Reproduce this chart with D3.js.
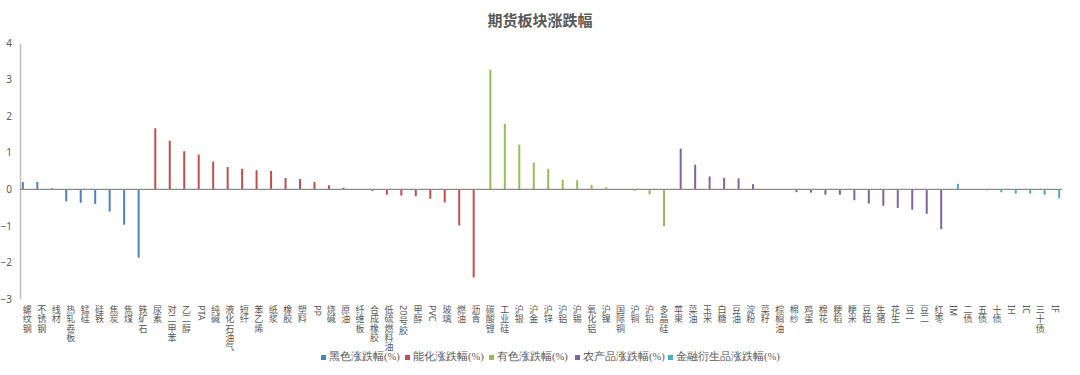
<!DOCTYPE html>
<html>
<head>
<meta charset="utf-8">
<script src="https://cdn.jsdelivr.net/npm/d3@7"></script>
<style>
  body { margin: 0; background: #fff; }
  svg { display: block; font-family: "Noto Sans CJK SC", "Noto Sans", sans-serif; }
</style>
</head>
<body>
<svg id="chart"></svg>
<script>
// sectors, in drawing order
const seriesNames = ['黑色涨跌幅(%)', '能化涨跌幅(%)', '有色涨跌幅(%)', '农产品涨跌幅(%)', '金融衍生品涨跌幅(%)'];
const seriesColors = ['#4F81BD', '#C0504D', '#9BBB59', '#8064A2', '#4BACC6'];

const blackCats = ['螺纹钢', '不锈钢', '线材', '热轧卷板', '锰硅', '硅铁', '焦炭', '焦煤', '铁矿石'];
const blackVals = [0.20, 0.20, 0.03, -0.33, -0.37, -0.40, -0.61, -0.97, -1.87];

const chemCats = ['尿素', '对二甲苯', '乙二醇', 'PTA', '纯碱', '液化石油气', '短纤', '苯乙烯', '纸浆', '橡胶', '塑料', 'PP', '烧碱', '原油', '纤维板', '合成橡胶', '低硫燃料油', '20号胶', '甲醇', 'PVC', '玻璃', '燃油', '沥青'];
const chemVals = [1.67, 1.33, 1.04, 0.95, 0.76, 0.61, 0.56, 0.52, 0.50, 0.31, 0.28, 0.20, 0.11, 0.04, 0, -0.05, -0.15, -0.17, -0.19, -0.26, -0.36, -0.99, -2.41];

const metalCats = ['碳酸锂', '工业硅', '沪银', '沪金', '沪锌', '沪铝', '沪锡', '氧化铝', '沪镍', '国际铜', '沪铜', '沪铅', '多晶硅'];
const metalVals = [3.27, 1.79, 1.22, 0.73, 0.56, 0.26, 0.25, 0.12, 0.05, 0.01, -0.04, -0.14, -1.01];

const agriCats = ['苹果', '菜油', '玉米', '白糖', '豆油', '淀粉', '菜籽', '棕榈油', '棉纱', '鸡蛋', '棉花', '粳稻', '粳米', '豆粕', '生猪', '花生', '豆一', '豆二', '红枣'];
const agriVals = [1.11, 0.67, 0.35, 0.31, 0.30, 0.14, 0, 0, -0.08, -0.09, -0.15, -0.15, -0.30, -0.39, -0.45, -0.51, -0.56, -0.67, -1.09];

const finCats = ['IM', '二债', '五债', '十债', 'IH', 'IC', '三十债', 'IF'];
const finVals = [0.15, 0, -0.03, -0.08, -0.12, -0.12, -0.15, -0.25];

const yTicks = [4, 3, 2, 1, 0, -1, -2, -3];

const groups = [
  { cats: blackCats, vals: blackVals },
  { cats: chemCats, vals: chemVals },
  { cats: metalCats, vals: metalVals },
  { cats: agriCats, vals: agriVals },
  { cats: finCats, vals: finVals }
];

// flatten into one row per category
let rows = [];
groups.forEach((g, si) => {
  g.cats.forEach((c, i) => rows.push({ cat: c, value: g.vals[i], series: si }));
});

const width = 1080, height = 375;
const svg = d3.select('#chart').attr('width', width).attr('height', height);

const x0 = d3.scaleBand()
  .domain(rows.map(d => d.cat))
  .range([20, 1062])
  .paddingInner(0.24)
  .paddingOuter(0.12);

const x1 = d3.scaleBand()
  .domain(d3.range(seriesNames.length))
  .range([0, x0.bandwidth()]);

const y = d3.scaleLinear()
  .domain([-3, 4])
  .range([299, 43]);

// title
svg.append('text')
  .attr('x', 540)
  .attr('y', 26)
  .attr('text-anchor', 'middle')
  .style('font-size', '15px')
  .style('font-weight', 'bold')
  .style('fill', '#595959')
  .text('期货板块涨跌幅');

// y axis
const yAxis = d3.axisLeft(y).tickValues(yTicks).tickFormat(d3.format('d')).tickSize(0).tickPadding(8);
const gy = svg.append('g')
  .attr('transform', 'translate(20,0)')
  .call(yAxis);
gy.select('.domain').attr('stroke', '#bfbfbf').attr('stroke-width', 1.5);
gy.selectAll('text')
  .style('font-size', '10px')
  .style('fill', '#595959')
  .style('font-family', '"Noto Sans", sans-serif');

// bars
svg.append('g')
  .selectAll('rect')
  .data(rows)
  .join('rect')
  .attr('x', d => x0(d.cat) + x1(d.series) + 0.1)
  .attr('y', d => y(Math.max(0, d.value)))
  .attr('width', x1.bandwidth() - 0.2)
  .attr('height', d => Math.abs(y(d.value) - y(0)))
  .attr('fill', d => seriesColors[d.series]);

// zero line
svg.append('line')
  .attr('x1', 20).attr('x2', 1062)
  .attr('y1', y(0)).attr('y2', y(0))
  .attr('stroke', '#8c8c8c')
  .attr('stroke-width', 1.2);

// category labels: CJK characters stacked upright, latin runs turned 90deg
const fs = 9;
const step = 9.3;
const labelG = svg.append('g').style('font-size', fs + 'px').style('fill', '#595959');
rows.forEach(d => {
  const g = labelG.append('g')
    .attr('transform', `translate(${x0(d.cat) + x0.bandwidth() / 2}, 305)`);
  let pos = 0;
  const runs = d.cat.match(/[A-Za-z0-9]+|./g);
  runs.forEach(r => {
    if (/^[A-Za-z0-9]+$/.test(r)) {
      const t = g.append('text')
        .attr('transform', `translate(-3.1, ${pos}) rotate(90)`)
        .style('font-family', '"Noto Sans", sans-serif')
        .text(r);
      pos += t.node().getComputedTextLength() + 1;
    } else {
      g.append('text')
        .attr('x', 0)
        .attr('y', pos + fs * 0.88)
        .attr('text-anchor', 'middle')
        .text(r);
      pos += step;
    }
  });
});

// legend
const legendX = [321, 405, 489, 575, 668];
const legend = svg.append('g')
  .selectAll('g')
  .data(seriesNames)
  .join('g')
  .attr('transform', (d, i) => `translate(${legendX[i]}, 358)`);

legend.append('rect')
  .attr('x', 0).attr('y', -3)
  .attr('width', 5).attr('height', 5)
  .attr('fill', (d, i) => seriesColors[i]);

legend.append('text')
  .attr('x', 8)
  .attr('y', 0)
  .attr('dominant-baseline', 'middle')
  .style('font-size', '10.5px')
  .style('font-family', '"Liberation Serif", serif')
  .style('fill', '#595959')
  .text(d => d);
</script>
</body>
</html>
